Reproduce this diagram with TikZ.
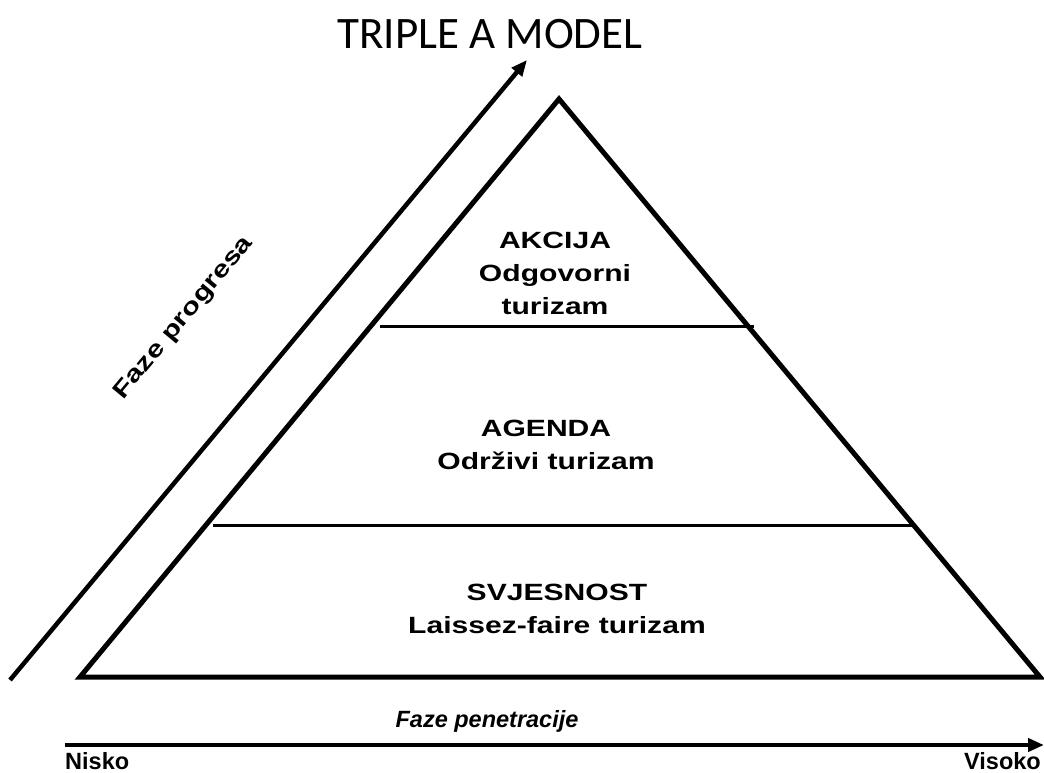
\documentclass[tikz,border=0pt]{standalone}
\usepackage{fontspec}
\usepackage{graphicx}
\setmainfont{Liberation Sans}
\newfontfamily\titlefont{Carlito}
\usetikzlibrary{arrows.meta}
\newcommand\wide[1]{\scalebox{1.28}[1]{#1}}
\tikzset{
  edge/.style={line width=5pt, line join=miter},
  divider/.style={line width=3pt},
  axis/.style={line width=4.5pt, -{Triangle[length=16pt,width=13pt]}},
  label/.style={font=\fontsize{23.5}{33}\selectfont\bfseries, align=center, inner sep=0pt},
}
\begin{document}
\begin{tikzpicture}[x=1pt,y=-1pt]
\useasboundingbox (0,0) rectangle (1044,772);
% triangle
\coordinate (apex) at (559,99);
\coordinate (bl) at (80,677);
\coordinate (br) at (1040,677);
\draw[edge] (bl) -- (apex) -- (br) -- cycle;
% dividers
\coordinate (d1a) at (380,326);
\coordinate (d1b) at (754,326);
\coordinate (d2a) at (213,525);
\coordinate (d2b) at (912,525);
\draw[divider] (d1a) -- (d1b);
\draw[divider] (d2a) -- (d2b);
% progress arrow
\coordinate (pa) at (10,680);
\coordinate (pb) at (527,60);
\draw[axis] (pa) -- (pb);
% penetration arrow
\coordinate (ha) at (65,745);
\coordinate (hb) at (1044,745);
\draw[axis] (ha) -- (hb);
% title
\node[inner sep=0pt, font=\titlefont\fontsize{45}{50}\selectfont] (title) at (490,34) {TRIPLE A MODEL};
% labels
\node[label] (akcija) at (555,273) {\wide{AKCIJA}\\\wide{Odgovorni}\\\wide{turizam}};
\node[label] (agenda) at (546,445) {\wide{AGENDA}\\\wide{Održivi turizam}};
\node[label] (svj) at (557,609) {\wide{SVJESNOST}\\\wide{Laissez-faire turizam}};
\node[label, rotate=50.3] (prog) at (184,318) {\wide{Faze progresa}};
\node[label, font=\fontsize{23.5}{28}\selectfont\bfseries\itshape] (pen) at (487,721) {Faze penetracije};
\node[label, anchor=west] (nisko) at (65,761) {Nisko};
\node[label, anchor=east] (visoko) at (1041,761) {Visoko};
\end{tikzpicture}
\end{document}
